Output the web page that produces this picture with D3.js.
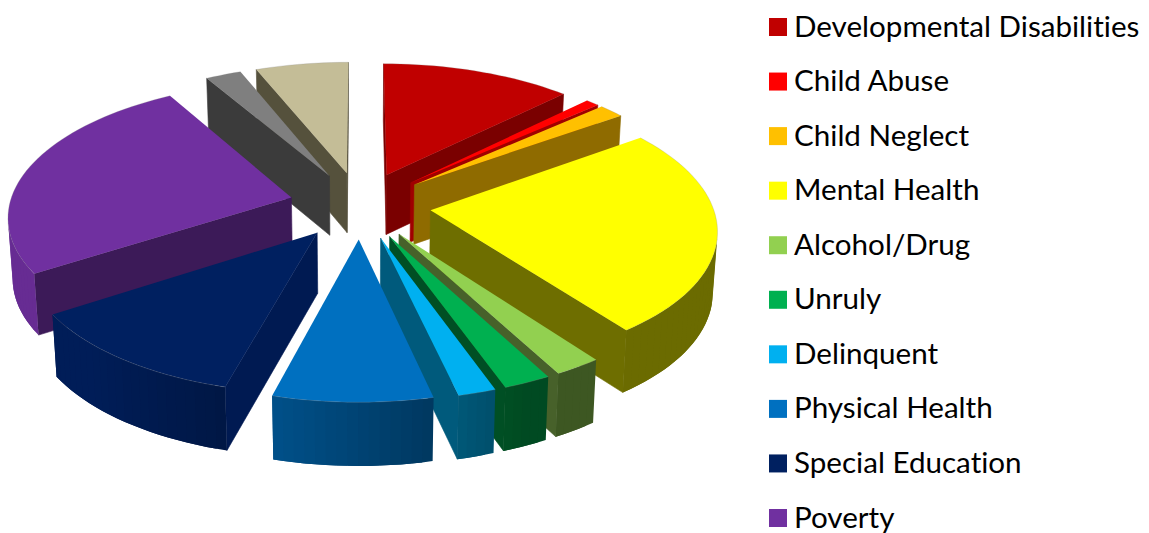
<!DOCTYPE html>
<html><head><meta charset="utf-8">
<script src="https://cdn.jsdelivr.net/npm/d3@7/dist/d3.min.js"></script>
<style>html,body{margin:0;background:#fff}svg{display:block}text{font-family:Lato,"Open Sans",sans-serif;font-variant-ligatures:none}</style>
</head><body><svg id="c" width="1149" height="533"></svg>
<script>
const categories=["Developmental Disabilities","Child Abuse","Child Neglect","Mental Health","Alcohol/Drug","Unruly","Delinquent","Physical Health","Special Education","Poverty"];
const values=[12.58,0.89,1.67,24.72,2.33,2.34,1.86,7.78,11.67,25.69,2.36,6.11];
const colors=["#C00000","#FF0000","#FFC000","#FFFF00","#92D050","#00B050","#00B0F0","#0070C0","#002060","#7030A0","#7F7F7F","#C4BD97"];
const wallColors=["#7a0000","#a00000","#8f6b00","#6e6e00","#47612a","#004f24","#005a7c","#0a5488","#001a52","#3c1a58","#3b3b3b","#55513c"];

const svg=d3.select("#c");
const cx=360,cy=205,R=282,E=71,T=.47,P=.00045,H=60;
function proj(X,Z,h){
  const s=1/(1-P*Z);
  return [cx+X*s*(1-h*.00022), cy+T*Z*s+h*Math.pow(s,.35)];
}
const pie=d3.pie().value(d=>d).sort(null).startAngle(0).endAngle(2*Math.PI);
const arcs=pie(values).map((d,i)=>({...d,i,mid:(d.startAngle+d.endAngle)/2}));
const line=d3.line();
function area(p){let a=0;p.forEach((q,j)=>{const r=p[(j+1)%p.length];a+=q[0]*r[1]-r[0]*q[1];});return a;}
function shade(hex,f){const c=d3.rgb(hex);return d3.rgb(c.r*f,c.g*f,c.b*f).formatHex();}

const g=svg.append("g");
arcs.slice().sort((a,b)=>(-Math.cos(a.mid))-(-Math.cos(b.mid))).forEach(d=>{
  const ox=E*Math.sin(d.mid),oz=-E*Math.cos(d.mid);
  const n=Math.max(2,Math.ceil((d.endAngle-d.startAngle)/(Math.PI/90)));
  const ang=d3.range(n+1).map(k=>d.startAngle+(d.endAngle-d.startAngle)*k/n);
  const rim=ang.map(a=>[ox+R*Math.sin(a),oz-R*Math.cos(a)]);
  const apex=[ox,oz];
  const top=w=>proj(w[0],w[1],0),bot=w=>proj(w[0],w[1],H);
  const sl=g.append("g");
  const wall=(w1,w2,fill)=>{
    const poly=[top(w1),top(w2),bot(w2),bot(w1)];
    if(area(poly)>=0)return;
    sl.append("path").attr("d",line(poly)+"Z").attr("fill",fill).attr("stroke",fill).attr("stroke-width",.6);
  };
  wall(apex,rim[0],wallColors[d.i]);
  wall(rim[n],apex,wallColors[d.i]);
  for(let k=0;k<n;k++){
    const q=[top(rim[k]),top(rim[k+1]),bot(rim[k+1]),bot(rim[k])];
    if(area(q)>=0)continue;
    const a=(ang[k]+ang[k+1])/2;
    const f=Math.max(.42,Math.min(.92,.6-.45*Math.sin(a)));
    const e=Math.min(k+2,n);
    const seg=rim.slice(k,e+1);
    sl.append("path").attr("d",line([...seg.map(top),...seg.slice().reverse().map(bot)])+"Z").attr("fill",shade(colors[d.i],f));
  }
  sl.append("path").attr("d",line([apex,...rim].map(top))+"Z").attr("fill",colors[d.i]);
  sl.append("path").attr("d",line(rim.map(top))).attr("fill","none").attr("stroke","#8a8a8a").attr("stroke-width",.6).attr("stroke-opacity",.4);
});

const ly=d3.scalePoint().domain(categories).range([27,518]);
const lg=svg.append("g").selectAll("g").data(categories).join("g").attr("transform",d=>`translate(0,${ly(d)})`);
lg.append("rect").attr("x",769).attr("y",-9).attr("width",18).attr("height",18).attr("fill",(d,i)=>colors[i]);
lg.append("text").attr("x",794).attr("y",9.5).attr("font-size",29.6).attr("fill","#000").text(d=>d);
</script></body></html>
